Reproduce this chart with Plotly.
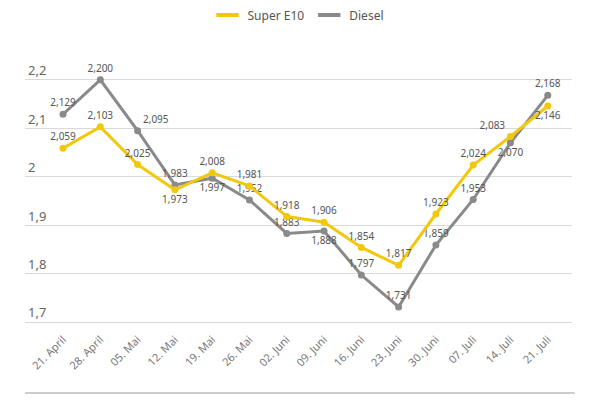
import plotly.graph_objs as go

# weekly fuel prices (EUR/l)
weeks = ['21. April', '28. April', '05. Mai', '12. Mai', '19. Mai', '26. Mai', '02. Juni',
         '09. Juni', '16. Juni', '23. Juni', '30. Juni', '07. Juli', '14. Juli', '21. Juli']
super_e10 = [2.059, 2.103, 2.025, 1.973, 2.008, 1.981, 1.918, 1.906, 1.854, 1.817, 1.923, 2.024, 2.083, 2.146]
diesel = [2.129, 2.200, 2.095, 1.983, 1.997, 1.952, 1.883, 1.888, 1.797, 1.731, 1.859, 1.953, 2.070, 2.168]

yellow = '#f2c80f'
grey = '#8a8a8a'

# label placement per point
e10_pos = ['top center'] * 14
e10_pos[3] = 'bottom center'
e10_pos[13] = 'bottom center'
e10_pos[12] = 'top left'
diesel_pos = ['top center'] * 14
diesel_pos[4] = 'bottom center'
diesel_pos[7] = 'bottom center'
diesel_pos[12] = 'bottom center'
diesel_pos[2] = 'top right'

fig = go.Figure()

fig.add_trace(go.Scatter(
    x=weeks, y=diesel, mode='lines+markers+text', name='Diesel',
    line=dict(color=grey, width=3), marker=dict(color=grey, size=7),
    texttemplate='%{y:.3f}', textposition=diesel_pos,
    textfont=dict(size=10, color='#555555'), showlegend=False
))
fig.add_trace(go.Scatter(
    x=weeks, y=super_e10, mode='lines+markers+text', name='Super E10',
    line=dict(color=yellow, width=3), marker=dict(color=yellow, size=7),
    texttemplate='%{y:.3f}', textposition=e10_pos,
    textfont=dict(size=10, color='#555555'), showlegend=False
))

# legend-only entries with short bars
for name, col in [('Super E10', yellow), ('Diesel', grey)]:
    fig.add_trace(go.Scatter(
        x=[None], y=[None], mode='markers', name=name,
        marker=dict(symbol='line-ew', size=16, line=dict(color=col, width=4))
    ))

fig.add_shape(type='line', xref='paper', yref='paper', x0=0, x1=1.005, y0=-0.233, y1=-0.233,
              line=dict(color='#cccccc', width=2))

fig.update_layout(
    width=600, height=400,
    margin=dict(l=25, r=28, t=60, b=70, autoexpand=False),
    paper_bgcolor='white', plot_bgcolor='white',
    font=dict(family='Noto Sans', color='#666666'),
    separators=',.',
    legend=dict(orientation='h', x=0.5, xanchor='center', y=1.167, yanchor='middle',
                font=dict(size=12, color='#555555')),
    xaxis=dict(range=[-1.02, 13.65], tickangle=-45, showgrid=False, showline=False,
               ticks='', tickfont=dict(size=11, color='#777777'), automargin=False),
    yaxis=dict(range=[1.6835, 2.241], tickvals=[1.7, 1.8, 1.9, 2.0, 2.1, 2.2],
               ticklabelposition='inside top', gridcolor='#d9d9d9', gridwidth=1,
               zeroline=False, showline=False, tickfont=dict(size=13, color='#666666'),
               automargin=False)
)

# drop the browser's default body margin so the figure sits at the page origin
fig.write_html('out.html', config={'displayModeBar': False},
               post_script="document.body.style.margin='0';")
